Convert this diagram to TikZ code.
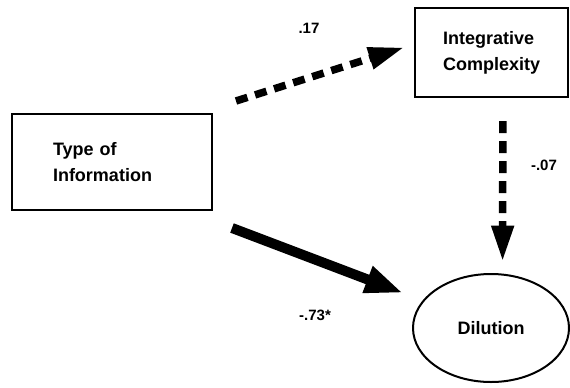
\documentclass[tikz,border=0pt]{standalone}
\usepackage{fontspec}
\setmainfont{Liberation Sans}
\usetikzlibrary{arrows.meta,shapes.geometric}

\begin{document}
\begin{tikzpicture}[x=1pt,y=-1pt,>={Triangle[length=36pt,width=21pt]},
                    box/.style={rectangle,draw,line width=2.4pt,inner xsep=0pt,align=left,
                                font=\bfseries\fontsize{18}{26}\selectfont},
                    bubble/.style={ellipse,draw,line width=2pt,minimum width=156pt,minimum height=108pt,
                                   font=\bfseries\fontsize{18}{26}\selectfont},
                    dasharrow/.style={->,line width=7.5pt,dash pattern=on 12pt off 8pt},
                    solidarrow/.style={->,line width=10pt,>={Triangle[length=38pt,width=26pt]}},
                    coef/.style={font=\bfseries\fontsize{15}{17}\selectfont}]

  \useasboundingbox (0,0) rectangle (570,388);

  \node[box,minimum width=200pt,minimum height=96pt,text width=118pt] (type) at (112,162) {Type of\\Information};
  \node[box,minimum width=153pt,minimum height=89pt,text width=97pt] (integ) at (491.5,52.5) {Integrative\\Complexity};
  \node[bubble] (dilution) at (491,328) {Dilution};

  \coordinate (dstart) at (236,101);
  \coordinate (sstart) at (232,228);

  \draw[dasharrow,shorten >=10pt] (dstart) -- (integ.174);
  \draw[dasharrow,shorten <=23pt,shorten >=12pt] (integ.-76.7) -- (dilution.78.5);
  \draw[solidarrow,shorten >=21pt] (sstart) -- (dilution.158);

  \node[coef] (b17) at (309,28) {.17};
  \node[coef] (b07) at (544,165) {-.07};
  \node[coef] (b73) at (315,315) {-.73*};
\end{tikzpicture}
\end{document}
